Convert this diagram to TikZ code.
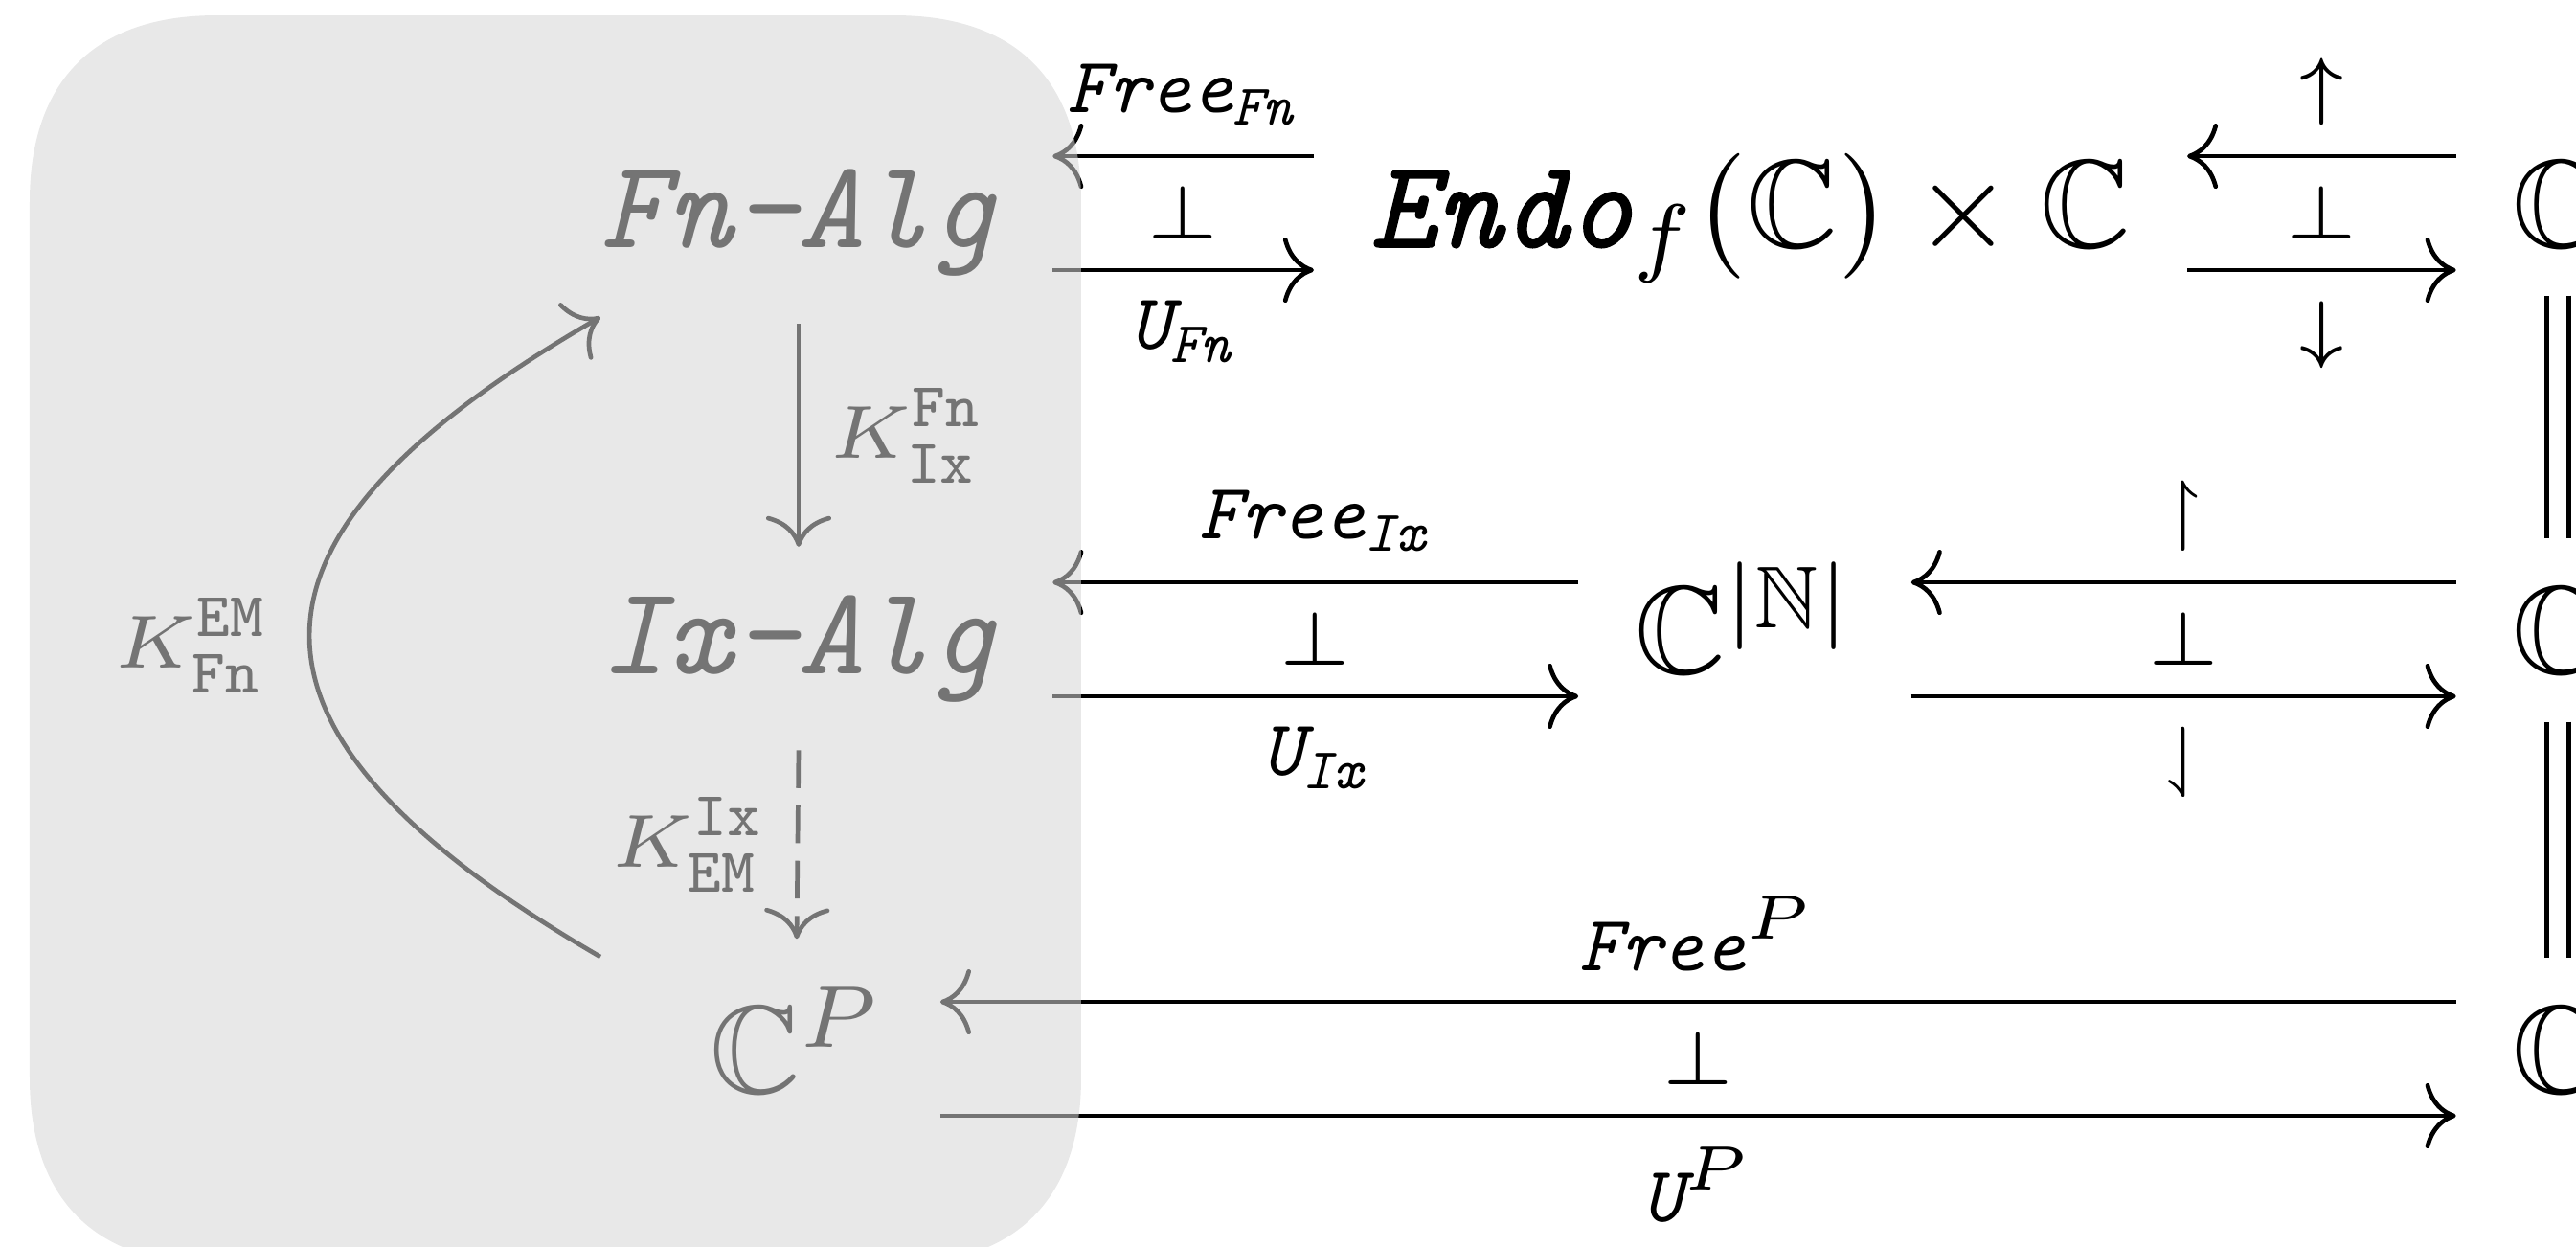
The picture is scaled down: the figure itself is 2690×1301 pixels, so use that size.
\documentclass[tikz,border=0pt]{standalone}
\usepackage{amsmath,amssymb}
\usetikzlibrary{arrows.meta}
\DeclareMathSizes{6.3}{6.3}{4.6}{3.5}
\font\endofont="[lmmono10-italic]:embolden=1.1" at 10pt
\newcommand\tti[1]{\text{\ttfamily\itshape #1}}
\definecolor{boxgrey}{gray}{0.835}
\tikzset{
  obj/.style={anchor=base, inner xsep=4.3pt, inner ysep=3.66pt, font=\fontsize{10}{12}\selectfont},
  lab/.style={font=\fontsize{6.3}{7.5}\selectfont, inner sep=2.3pt},
  adj/.style={font=\fontsize{5.8}{7}\selectfont, inner sep=0pt},
  arr/.style={line width=0.36pt, -{Computer Modern Rightarrow[length=2.45pt,width=5.2pt]}},
  eqline/.style={line width=0.36pt, double, double distance=1.4pt},
}
\begin{document}
\begin{tikzpicture}[x=0.07634pt,y=-0.07634pt]
\useasboundingbox (0,0) rectangle (2690,1301);
% objects
\node[obj] (fn) at (834,258) {\ttfamily\itshape Fn-Alg};
\node[obj] (ix) at (834,703) {\ttfamily\itshape Ix-Alg};
\node[obj] (cp) at (832,1141) {$\mathbb{C}^{P}$};
\node[obj] (endo) at (1828,258) {$\text{\endofont Endo}_f(\mathbb{C})\times\mathbb{C}$};
\node[obj] (cn) at (1822,703) {$\mathbb{C}^{|\mathbb{N}|}$};
\node[obj] (ca) at (2671,258) {$\mathbb{C}$};
\node[obj] (cb) at (2671,703) {$\mathbb{C}$};
\node[obj] (cc) at (2671,1141) {$\mathbb{C}$};
% row 1 left
\draw[arr] ([yshift=7.25pt]endo.base west) -- ([yshift=7.25pt]fn.base east)
  node[midway, above, lab] (l1) {$\tti{Free}_{\tti{Fn}}$};
\draw[arr] ([yshift=-1.83pt]fn.base east) -- ([yshift=-1.83pt]endo.base west)
  node[midway, below, lab] (l2) {$\tti{U}_{\tti{Fn}}$};
\path ([yshift=2.71pt]fn.base east) -- ([yshift=2.71pt]endo.base west)
  node[midway, adj] (p1) {$\perp$};
% row 1 right
\draw[arr] ([yshift=7.25pt]ca.base west) -- ([yshift=7.25pt]endo.base east)
  node[midway, above, lab] (l3) {$\uparrow$};
\draw[arr] ([yshift=-1.83pt]endo.base east) -- ([yshift=-1.83pt]ca.base west)
  node[midway, below, lab] (l4) {$\downarrow$};
\path ([yshift=2.71pt]endo.base east) -- ([yshift=2.71pt]ca.base west)
  node[midway, adj] (p2) {$\perp$};
% row 2 left
\draw[arr] ([yshift=7.25pt]cn.base west) -- ([yshift=7.25pt]ix.base east)
  node[midway, above, lab] (l5) {$\tti{Free}_{\tti{Ix}}$};
\draw[arr] ([yshift=-1.83pt]ix.base east) -- ([yshift=-1.83pt]cn.base west)
  node[midway, below, lab] (l6) {$\tti{U}_{\tti{Ix}}$};
\path ([yshift=2.71pt]ix.base east) -- ([yshift=2.71pt]cn.base west)
  node[midway, adj] (p3) {$\perp$};
% row 2 right
\draw[arr] ([yshift=7.25pt]cb.base west) -- ([yshift=7.25pt]cn.base east)
  node[midway, above, lab] (l7) {$\upharpoonright$};
\draw[arr] ([yshift=-1.83pt]cn.base east) -- ([yshift=-1.83pt]cb.base west)
  node[midway, below, lab] (l8) {$\downharpoonleft$};
\path ([yshift=2.71pt]cn.base east) -- ([yshift=2.71pt]cb.base west)
  node[midway, adj] (p4) {$\perp$};
% row 3
\draw[arr] ([yshift=7.25pt]cc.base west) -- ([yshift=7.25pt]cp.base east)
  node[midway, above, lab] (l9) {$\tti{Free}^{P}$};
\draw[arr] ([yshift=-1.83pt]cp.base east) -- ([yshift=-1.83pt]cc.base west)
  node[midway, below, lab] (l10) {$\tti{U}^{P}$};
\path ([yshift=2.71pt]cp.base east) -- ([yshift=2.71pt]cc.base west)
  node[midway, adj] (p5) {$\perp$};
% right column equalities
\draw[eqline] (ca.south) -- (cb.north);
\draw[eqline] (cb.south) -- (cc.north);
% left column
\draw[arr] (fn.south) -- (ix.north)
  node[midway, right, lab] (k1) {$K^{\mathtt{Fn}}_{\mathtt{Ix}}$};
\draw[arr, dash pattern=on 3pt off 1.4pt] (ix.south) -- (cp.north)
  node[midway, left, lab] (k2) {$K^{\mathtt{Ix}}_{\mathtt{EM}}$};
\coordinate (kS) at (627,999);
\coordinate (kE) at (627,331);
\draw[arr] (kS) .. controls (215,760) and (230,560) .. (kE)
  node[pos=0.5, left, lab, inner sep=3pt, yshift=-1pt] (k3) {$K^{\mathtt{EM}}_{\mathtt{Fn}}$};
% grey overlay
\fill[boxgrey, fill opacity=0.545]
  (31,211) .. controls (31,84) and (99,16) .. (226,16)
  -- (934,16) .. controls (1061,16) and (1129,84) .. (1129,211)
  -- (1129,1125) .. controls (1129,1252) and (1061,1320) .. (934,1320)
  -- (226,1320) .. controls (99,1320) and (31,1252) .. (31,1125) -- cycle;
\end{tikzpicture}
\end{document}
